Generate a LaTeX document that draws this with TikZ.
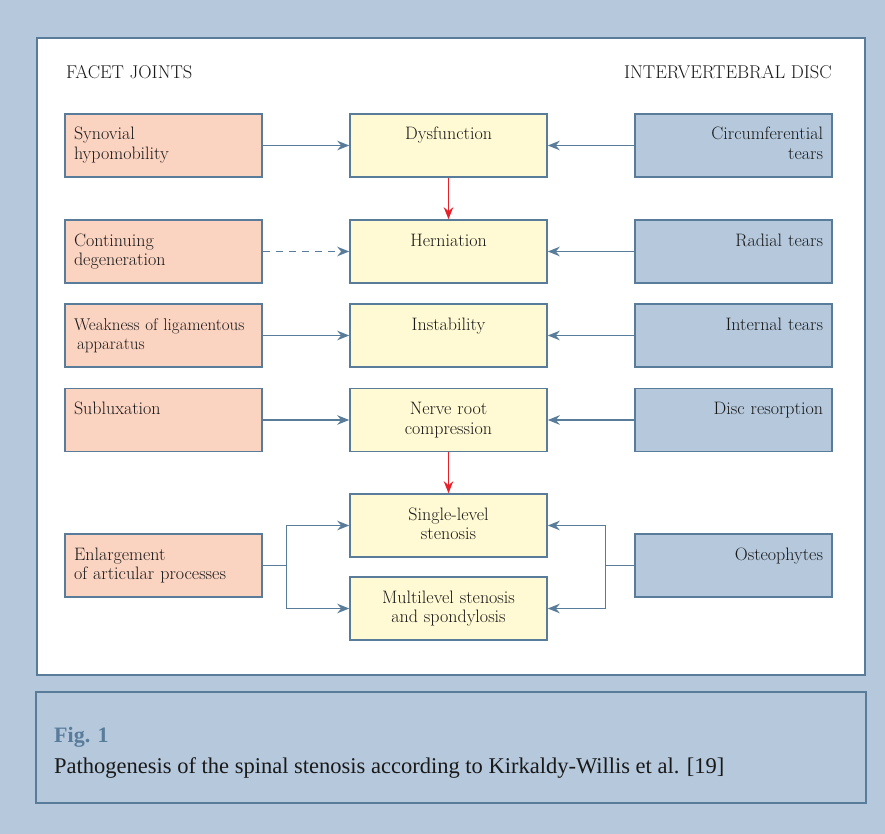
\documentclass[tikz,border=0pt]{standalone}
\usepackage{fontspec}
\newfontfamily\capfont{Liberation Serif}
\usetikzlibrary{arrows.meta}
\definecolor{panelblue}{RGB}{181,200,220}
\definecolor{framecol}{RGB}{88,124,154}
\definecolor{facetfill}{RGB}{251,211,193}
\definecolor{midfill}{RGB}{255,250,211}
\definecolor{flowred}{RGB}{232,32,42}
\definecolor{inktext}{RGB}{25,25,25}
\begin{document}
\begin{tikzpicture}[
  x=1pt, y=-1pt,
  box/.style={rectangle, draw=framecol, line width=1.5pt, inner xsep=9pt, inner ysep=6pt,
    text width=179pt, text height=20pt, text depth=31pt, text=inktext,
    font=\fontsize{18}{19.5}\selectfont\addfontfeature{FakeBold=0.3}},
  facet/.style={box, fill=facetfill, align=left},
  stage/.style={box, fill=midfill, align=center},
  disc/.style={box, fill=panelblue, align=right},
  head/.style={inner sep=0pt, text=inktext, font=\fontsize{18.5}{21}\selectfont\addfontfeature{LetterSpace=5,FakeBold=0.3}},
  link/.style={->, line width=1.4pt, draw=framecol},
  redlink/.style={->, line width=1.4pt, draw=flowred},
  >={Stealth[length=12pt,width=9.5pt]},
  node distance=285pt
]
\useasboundingbox (0,0) rectangle (885,834);
\fill[panelblue] (0,0) rectangle (885,834);
\draw[framecol, line width=2.5pt, fill=white] (37,38) rectangle (865,675);
\draw[framecol, line width=1.2pt] (36,692) rectangle (866,803);

\node[head, anchor=west] (facethead) at (66,72) {FACET JOINTS};
\node[head, anchor=east] (dischead) at (832,72) {INTERVERTEBRAL DISC};

% middle column
\node[stage] (dysf) at (448.5,145.5) {Dysfunction};
\node[stage, below of=dysf, node distance=106pt] (hern) {Herniation};
\node[stage, below of=hern, node distance=84pt] (inst) {Instability};
\node[stage, below of=inst, node distance=84.5pt] (nerve) {Nerve root\\compression};
\node[stage, below of=nerve, node distance=105.5pt] (single) {Single-level\\stenosis};
\node[stage, below of=single, node distance=83pt] (multi) {Multilevel stenosis\\and spondylosis};

% facet joints
\node[facet, left of=dysf] (synov) {Synovial\\hypomobility};
\node[facet, left of=hern] (degen) {Continuing\\degeneration};
\node[facet, left of=inst, font=\fontsize{17}{19}\selectfont\addfontfeature{FakeBold=0.3}] (weak) {\mbox{Weakness of ligamentous}\\\hspace{3pt}apparatus};
\node[facet, left of=nerve] (sublux) {Subluxation};
\node[facet, left of=single, yshift=-40pt] (enlarge) {Enlargement\\of articular processes};

% intervertebral disc
\node[disc, right of=dysf] (circ) {Circumferential\\tears};
\node[disc, right of=hern] (radial) {Radial tears};
\node[disc, right of=inst] (internal) {Internal tears};
\node[disc, right of=nerve] (resorp) {Disc resorption};
\node[disc, right of=single, yshift=-40pt] (osteo) {Osteophytes};

\draw[link] (synov) -- (dysf);
\draw[link, dash pattern=on 7pt off 6pt] (degen) -- (hern);
\draw[link] (weak) -- (inst);
\draw[link] (sublux) -- (nerve);
\draw[link] (circ) -- (dysf);
\draw[link] (radial) -- (hern);
\draw[link] (internal) -- (inst);
\draw[link] (resorp) -- (nerve);
\draw[redlink] (dysf) -- (hern);
\draw[redlink] (nerve) -- (single);
\draw[link, -] (enlarge.east) -- ++(24,0) coordinate (lfork);
\draw[link] (lfork) |- (single);
\draw[link] (lfork) |- (multi);
\draw[link, -] (osteo.west) -- ++(-29,0) coordinate (rfork);
\draw[link] (rfork) |- (single);
\draw[link] (rfork) |- (multi);

% caption
\node[inner sep=0pt, anchor=base west, text=framecol, font=\capfont\bfseries\fontsize{22}{26}\selectfont] (fignum) at (54,742) {Fig. 1};
\node[inner sep=0pt, anchor=base west, text=inktext, font=\capfont\fontsize{22.5}{26}\selectfont] (figcap) at (54,773) {Pathogenesis of the spinal stenosis according to Kirkaldy-Willis et al. [19]};
\end{tikzpicture}
\end{document}
